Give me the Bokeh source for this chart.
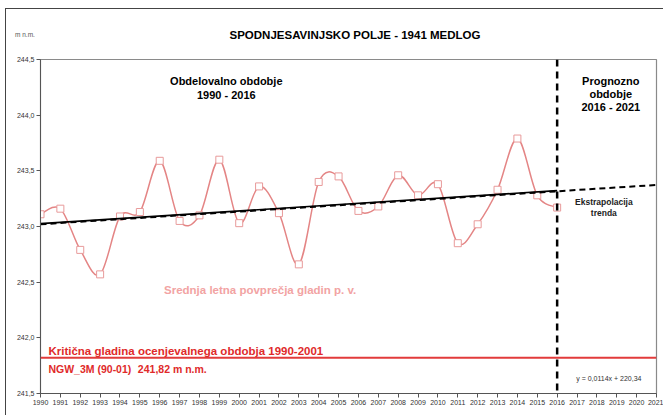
import numpy as np
from bokeh.plotting import figure
from bokeh.models import Label, FixedTicker, Span, Range1d, Div
from bokeh.layouts import column
from bokeh.embed import file_html
from bokeh.resources import INLINE

# ---- data ----
years = list(range(1990, 2017))
levels = [243.11, 243.16, 242.79, 242.57, 243.09, 243.13, 243.59, 243.05, 243.10,
          243.60, 243.03, 243.36, 243.12, 242.66, 243.40, 243.45, 243.14, 243.18,
          243.46, 243.28, 243.38, 242.85, 243.02, 243.33, 243.79, 243.28, 243.17]
trend_slope = 0.0114
trend_intercept = 220.34
critical_level = 241.82
forecast_start = 2016
x_end = 2021
y_ticks = [241.5, 242.0, 242.5, 243.0, 243.5, 244.0, 244.5]
y_tick_labels = ["241,5", "242,0", "242,5", "243,0", "243,5", "244,0", "244,5"]
x_ticks = list(range(1990, 2022))
title_text = "SPODNJESAVINJSKO POLJE - 1941 MEDLOG"
unit_text = "m n.m."

FONT = "Liberation Sans"
HEADER_H = 45

header = Div(
    text=(
        f'<div style="position:relative;width:663px;height:{HEADER_H}px;'
        f'font-family:\'{FONT}\';">'
        f'<span style="position:absolute;left:15px;top:31px;font-size:6.5px;'
        f'color:#555;line-height:8px;">{unit_text}</span>'
        f'<span style="position:absolute;left:0;width:710px;top:28px;text-align:center;'
        f'font-size:11.5px;font-weight:bold;color:#000;line-height:14px;">{title_text}</span>'
        f'</div>'
    ),
    width=663, height=HEADER_H, margin=0,
)

p = figure(width=663, height=415 - HEADER_H, output_backend="svg", toolbar_location=None,
           title=None,
           x_range=Range1d(1990, x_end), y_range=Range1d(241.5, 244.5),
           min_border_left=40, min_border_right=7, min_border_top=59 - HEADER_H,
           min_border_bottom=22, margin=0)
p.grid.visible = False
p.outline_line_color = "#8a8a8a"
p.outline_line_width = 1.2
p.border_fill_alpha = 0
p.background_fill_color = "white"

for ax in (p.xaxis[0], p.yaxis[0]):
    ax.axis_line_color = "#555555"
    ax.major_tick_line_color = "#555555"
    ax.minor_tick_line_color = None
    ax.major_tick_out = 4
    ax.major_tick_in = 0
    ax.major_label_text_font = FONT
    ax.major_label_text_font_size = "7px"
    ax.major_label_text_color = "#333333"
    ax.major_label_standoff = 2

p.yaxis.ticker = FixedTicker(ticks=y_ticks)
p.yaxis.major_label_overrides = {t: l for t, l in zip(y_ticks, y_tick_labels)}
p.xaxis.ticker = FixedTicker(ticks=x_ticks)
p.xaxis.major_label_overrides = {t: str(t) for t in x_ticks}

# ---- smooth curve (Catmull-Rom bezier through the yearly points) ----
xs = np.array(years, dtype=float)
ys = np.array(levels, dtype=float)
n = len(xs)
xp = np.concatenate([[xs[0]], xs, [xs[-1]]])
yp = np.concatenate([[ys[0]], ys, [ys[-1]]])
x0, y0 = xs[:-1], ys[:-1]
x1, y1 = xs[1:], ys[1:]
cx0 = x0 + (xp[2:n + 1] - xp[0:n - 1]) / 6.0
cy0 = y0 + (yp[2:n + 1] - yp[0:n - 1]) / 6.0
cx1 = x1 - (xp[3:n + 2] - xp[1:n]) / 6.0
cy1 = y1 - (yp[3:n + 2] - yp[1:n]) / 6.0
p.bezier(x0=x0, y0=y0, x1=x1, y1=y1, cx0=cx0, cy0=cy0, cx1=cx1, cy1=cy1,
         line_color="#e48585", line_width=1.5)
p.scatter(xs, ys, marker="square", size=7, line_color="#e89a9a",
          fill_color="white", line_width=1)

# ---- trend ----
tx_fit = np.array([years[0], forecast_start], dtype=float)
tx_all = np.array([years[0], x_end], dtype=float)
p.line(tx_fit, trend_slope * tx_fit + trend_intercept, line_color="black", line_width=1.6)
p.line(tx_all, trend_slope * tx_all + trend_intercept - 0.006, line_color="black",
       line_width=2, line_dash="6 4")

# ---- reference lines ----
p.add_layout(Span(location=forecast_start, dimension="height", line_color="black",
                  line_width=2.5, line_dash="7 5"))
p.add_layout(Span(location=critical_level, dimension="width", line_color="#e23b3b",
                  line_width=2))

def lab(x, y, text, size, color="black", bold=True, align="center", baseline="middle"):
    p.add_layout(Label(x=x, y=y, text=text, text_font=FONT, text_font_size=size,
                       text_color=color, text_font_style="bold" if bold else "normal",
                       text_align=align, text_baseline=baseline))

lab(1999.35, 244.31, "Obdelovalno obdobje", "11px")
lab(1999.35, 244.18, "1990 - 2016", "11px")
lab(2018.7, 244.31, "Prognozno", "11px")
lab(2018.7, 244.19, "obdobje", "11px")
lab(2018.7, 244.07, "2016 - 2021", "11px")
lab(2018.35, 243.22, "Ekstrapolacija", "8.5px", color="#222222")
lab(2018.35, 243.12, "trenda", "8.5px", color="#222222")
lab(2001.05, 242.434, "Srednja letna povprečja gladin p. v.", "11.5px", color="#f2a3a3")
lab(1990.4, 241.886, "Kritična gladina ocenjevalnega obdobja 1990-2001", "11.5px",
    color="#e02a2a", align="left")
lab(1990.4, 241.716, "NGW_3M (90-01)", "10.5px", color="#e02a2a", align="left")
lab(1994.9, 241.716, "241,82 m n.m.", "10.5px", color="#e02a2a", align="left")
lab(2018.6, 241.635, "y = 0,0114x + 220,34", "7px", color="#333333", bold=False)

layout = column(header, p, spacing=0, margin=0, styles={
    "background": ("linear-gradient(#444,#444) 5px 8px / 1px 100% no-repeat, "
                   "linear-gradient(#444,#444) 5px 8px / 100% 1px no-repeat, white"),
})

open("out.html", "w").write(file_html(layout, INLINE))
